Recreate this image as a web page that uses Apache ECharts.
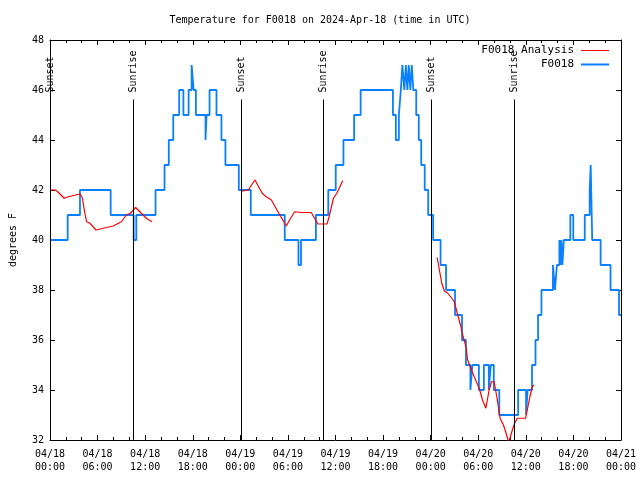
<!DOCTYPE html>
<html><head><meta charset="utf-8">
<script src="https://cdn.jsdelivr.net/npm/echarts@6/dist/echarts.min.js"></script>
<style>html,body{margin:0;padding:0;background:#fff}#c{width:640px;height:480px}</style>
</head><body><div id="c"></div>
<script>
// hours since 2024-04-18 00:00 UTC
const blueHours = [0, 2.23, 3.78, 7.65, 10.55, 10.88, 13.31, 14.44, 14.98, 15.54, 16.29, 16.82, 17.48, 17.86, 18.11, 18.40, 19.61, 19.74, 20.12, 20.99, 21.62, 22.12, 23.81, 25.32, 29.60, 31.33, 31.65, 33.53, 35.09, 36.03, 37.00, 38.35, 39.17, 43.24, 43.61, 43.99, 44.24, 44.43, 44.68, 44.87, 45.06, 45.24, 45.43, 45.62, 45.81, 46.18, 46.50, 46.81, 47.25, 47.69, 48.31, 49.25, 49.94, 51.07, 51.95, 52.45, 53.01, 53.26, 54.08, 54.71, 55.33, 55.58, 55.96, 56.65, 59.03, 60.03, 60.22, 60.78, 61.22, 61.54, 61.97, 63.42, 63.67, 63.92, 64.23, 64.36, 64.48, 64.61, 64.79, 65.61, 65.98, 67.43, 68.05, 68.18, 68.37, 69.43, 70.68, 71.75, 72];
const blueTemps = [40, 41, 42, 41, 40, 41, 42, 43, 44, 45, 46, 45, 46, 47, 46, 45, 44, 45, 46, 45, 44, 43, 42, 41, 40, 39, 40, 41, 42, 43, 44, 45, 46, 45, 44, 45, 46, 47, 46, 47, 46, 47, 46, 47, 46, 45, 44, 43, 42, 41, 40, 39, 38, 37, 36, 35, 34, 35, 34, 35, 34, 35, 34, 33, 34, 33, 34, 35, 36, 37, 38, 39, 38, 39, 40, 39, 40, 39, 40, 41, 40, 41, 42, 43, 40, 39, 38, 37, 37];

const redHours1 = [0, 0.69, 1.07, 1.78, 2.32, 3.23, 3.78, 4.07, 4.32, 4.61, 5.04, 5.79, 6.71, 7.96, 9.00, 9.63, 10.13, 10.80, 11.51, 12.22, 12.88];
const redTemps1 = [42.0, 42.0, 41.9, 41.67, 41.73, 41.8, 41.84, 41.7, 41.2, 40.73, 40.67, 40.4, 40.47, 40.56, 40.73, 41.0, 41.07, 41.3, 41.07, 40.85, 40.73];
const redHours2 = [24.13, 25.0, 25.84, 26.76, 27.26, 27.92, 28.85, 29.80, 30.30, 30.86, 31.68, 32.94, 33.36, 33.78, 34.94, 35.19, 35.74, 36.16, 36.91];
const redTemps2 = [41.95, 42.0, 42.4, 41.87, 41.73, 41.6, 41.07, 40.56, 40.85, 41.13, 41.1, 41.1, 40.87, 40.64, 40.64, 40.93, 41.67, 41.87, 42.37];
const redHours3 = [48.82, 49.10, 49.40, 49.73, 50.16, 50.66, 50.98, 51.41, 51.82, 52.04, 52.45, 52.66, 52.99, 53.49, 54.12, 54.54, 54.96, 55.37, 55.67, 56.0, 56.34, 56.75, 57.17, 57.46, 57.84, 58.09, 58.30, 58.59, 58.93, 59.97, 60.18, 60.51, 60.81, 61.01];
const redTemps3 = [39.3, 38.8, 38.27, 37.96, 37.87, 37.67, 37.53, 37.0, 36.53, 36.2, 35.73, 35.2, 34.93, 34.53, 34.07, 33.6, 33.27, 34.0, 34.33, 34.33, 33.73, 32.87, 32.6, 32.33, 31.9, 31.9, 32.4, 32.67, 32.87, 32.87, 33.2, 33.73, 34.13, 34.2];

const sunHours = [0.03, 10.5, 24.04, 34.45, 48.08, 58.48];
const sunLabels = ['Sunset', 'Sunrise', 'Sunset', 'Sunrise', 'Sunset', 'Sunrise'];
const sunLineTop = 45.62;

const titleText = 'Temperature for F0018 on 2024-Apr-18 (time in UTC)';
const yTicks = {min: 32, max: 48, step: 2};
const xTicks = {min: 0, max: 72, step: 6};

const FONT = '"DejaVu Sans Mono", "Liberation Mono", monospace';

function zip(h, v) { return h.map((x, i) => [x, v[i]]); }
const blueData = zip(blueHours, blueTemps);
const redData = zip(redHours1, redTemps1).concat([[ (redHours1[redHours1.length-1]+redHours2[0])/2, '-' ]])
  .concat(zip(redHours2, redTemps2)).concat([[ (redHours2[redHours2.length-1]+redHours3[0])/2, '-' ]])
  .concat(zip(redHours3, redTemps3));

function fmtX(v) {
  const d = Math.floor(v / 24 + 1e-9);
  const h = Math.round(v - d * 24);
  return '04/' + (18 + d) + '\n' + String(h).padStart(2, '0') + ':00';
}

const chart = echarts.init(document.getElementById('c'), null, {renderer: 'canvas'});
const axisCommon = {
  type: 'value', min: xTicks.min, max: xTicks.max, interval: xTicks.step,
  axisLine: {show: true, onZero: false, lineStyle: {color: '#000', width: 1}},
  axisTick: {show: true, inside: true, length: 5, lineStyle: {color: '#000'}},
  minorTick: {show: true, splitNumber: 3, length: 3, lineStyle: {color: '#000'}},
  splitLine: {show: false}
};
const yCommon = {
  type: 'value', min: yTicks.min, max: yTicks.max, interval: yTicks.step,
  axisLine: {show: true, onZero: false, lineStyle: {color: '#000', width: 1}},
  axisTick: {show: true, inside: true, length: 5, lineStyle: {color: '#000'}},
  splitLine: {show: false}
};
chart.setOption({
  animation: false,
  backgroundColor: '#fff',
  title: {text: titleText, left: 'center', top: 10,
    textStyle: {fontFamily: FONT, fontSize: 10, fontWeight: 'normal', color: '#000'}},
  legend: {
    orient: 'vertical', right: 26, top: 40, align: 'right', itemGap: 3,
    itemWidth: 28, itemHeight: 12,
    textStyle: {fontFamily: FONT, fontSize: 11, color: '#000', padding: [0, 2, 0, 0]},
    data: [
      {name: 'F0018 Analysis', icon: 'path://M0,5 L28,5 L28,6 L0,6 Z'},
      {name: 'F0018', icon: 'path://M0,5 L28,5 L28,7 L0,7 Z'}
    ]
  },
  grid: {left: 46, right: 19, top: 40, bottom: 40, containLabel: false},
  xAxis: [
    Object.assign({}, axisCommon, {position: 'bottom',
      axisLabel: {show: true, formatter: fmtX, fontFamily: FONT, fontSize: 10, color: '#000', lineHeight: 13, margin: 8}}),
    Object.assign({}, axisCommon, {position: 'top', axisLabel: {show: false}})
  ],
  yAxis: [
    Object.assign({}, yCommon, {position: 'left', name: 'degrees F', nameLocation: 'middle', nameGap: 32,
      nameTextStyle: {fontFamily: FONT, fontSize: 10, color: '#000'},
      axisLabel: {fontFamily: FONT, fontSize: 10, color: '#000', margin: 6}}),
    Object.assign({}, yCommon, {position: 'right', axisLabel: {show: false}})
  ],
  series: [
    {
      name: 'F0018 Analysis', type: 'line', data: redData, showSymbol: false, symbol: 'none',
      connectNulls: false, clip: true, z: 4,
      lineStyle: {color: '#ff0000', width: 1.2}, itemStyle: {color: '#ff0000'}
    },
    {
      name: 'F0018', type: 'line', data: blueData, step: 'end', showSymbol: false, symbol: 'none',
      clip: true, z: 3,
      lineStyle: {color: '#0a80ff', width: 1.8}, itemStyle: {color: '#0a80ff'}
    },
    {
      name: 'sun', type: 'custom', data: sunHours.map(h => [h, yTicks.min]), z: 5, clip: false,
      renderItem: function (params, api) {
        const bottom = api.coord([api.value(0), yTicks.min]);
        const top = api.coord([api.value(0), sunLineTop]);
        const x = Math.round(bottom[0]) + 0.5;
        return {
          type: 'group',
          children: [
            {type: 'line', shape: {x1: x, y1: bottom[1], x2: x, y2: top[1]},
              style: {stroke: '#000', lineWidth: 1}},
            {type: 'text', x: x, y: top[1] - 7, rotation: Math.PI / 2,
              style: {text: sunLabels[params.dataIndex], fill: '#000', font: '10px ' + FONT,
                align: 'left', verticalAlign: 'middle'}}
          ]
        };
      }
    }
  ]
});
</script></body></html>
